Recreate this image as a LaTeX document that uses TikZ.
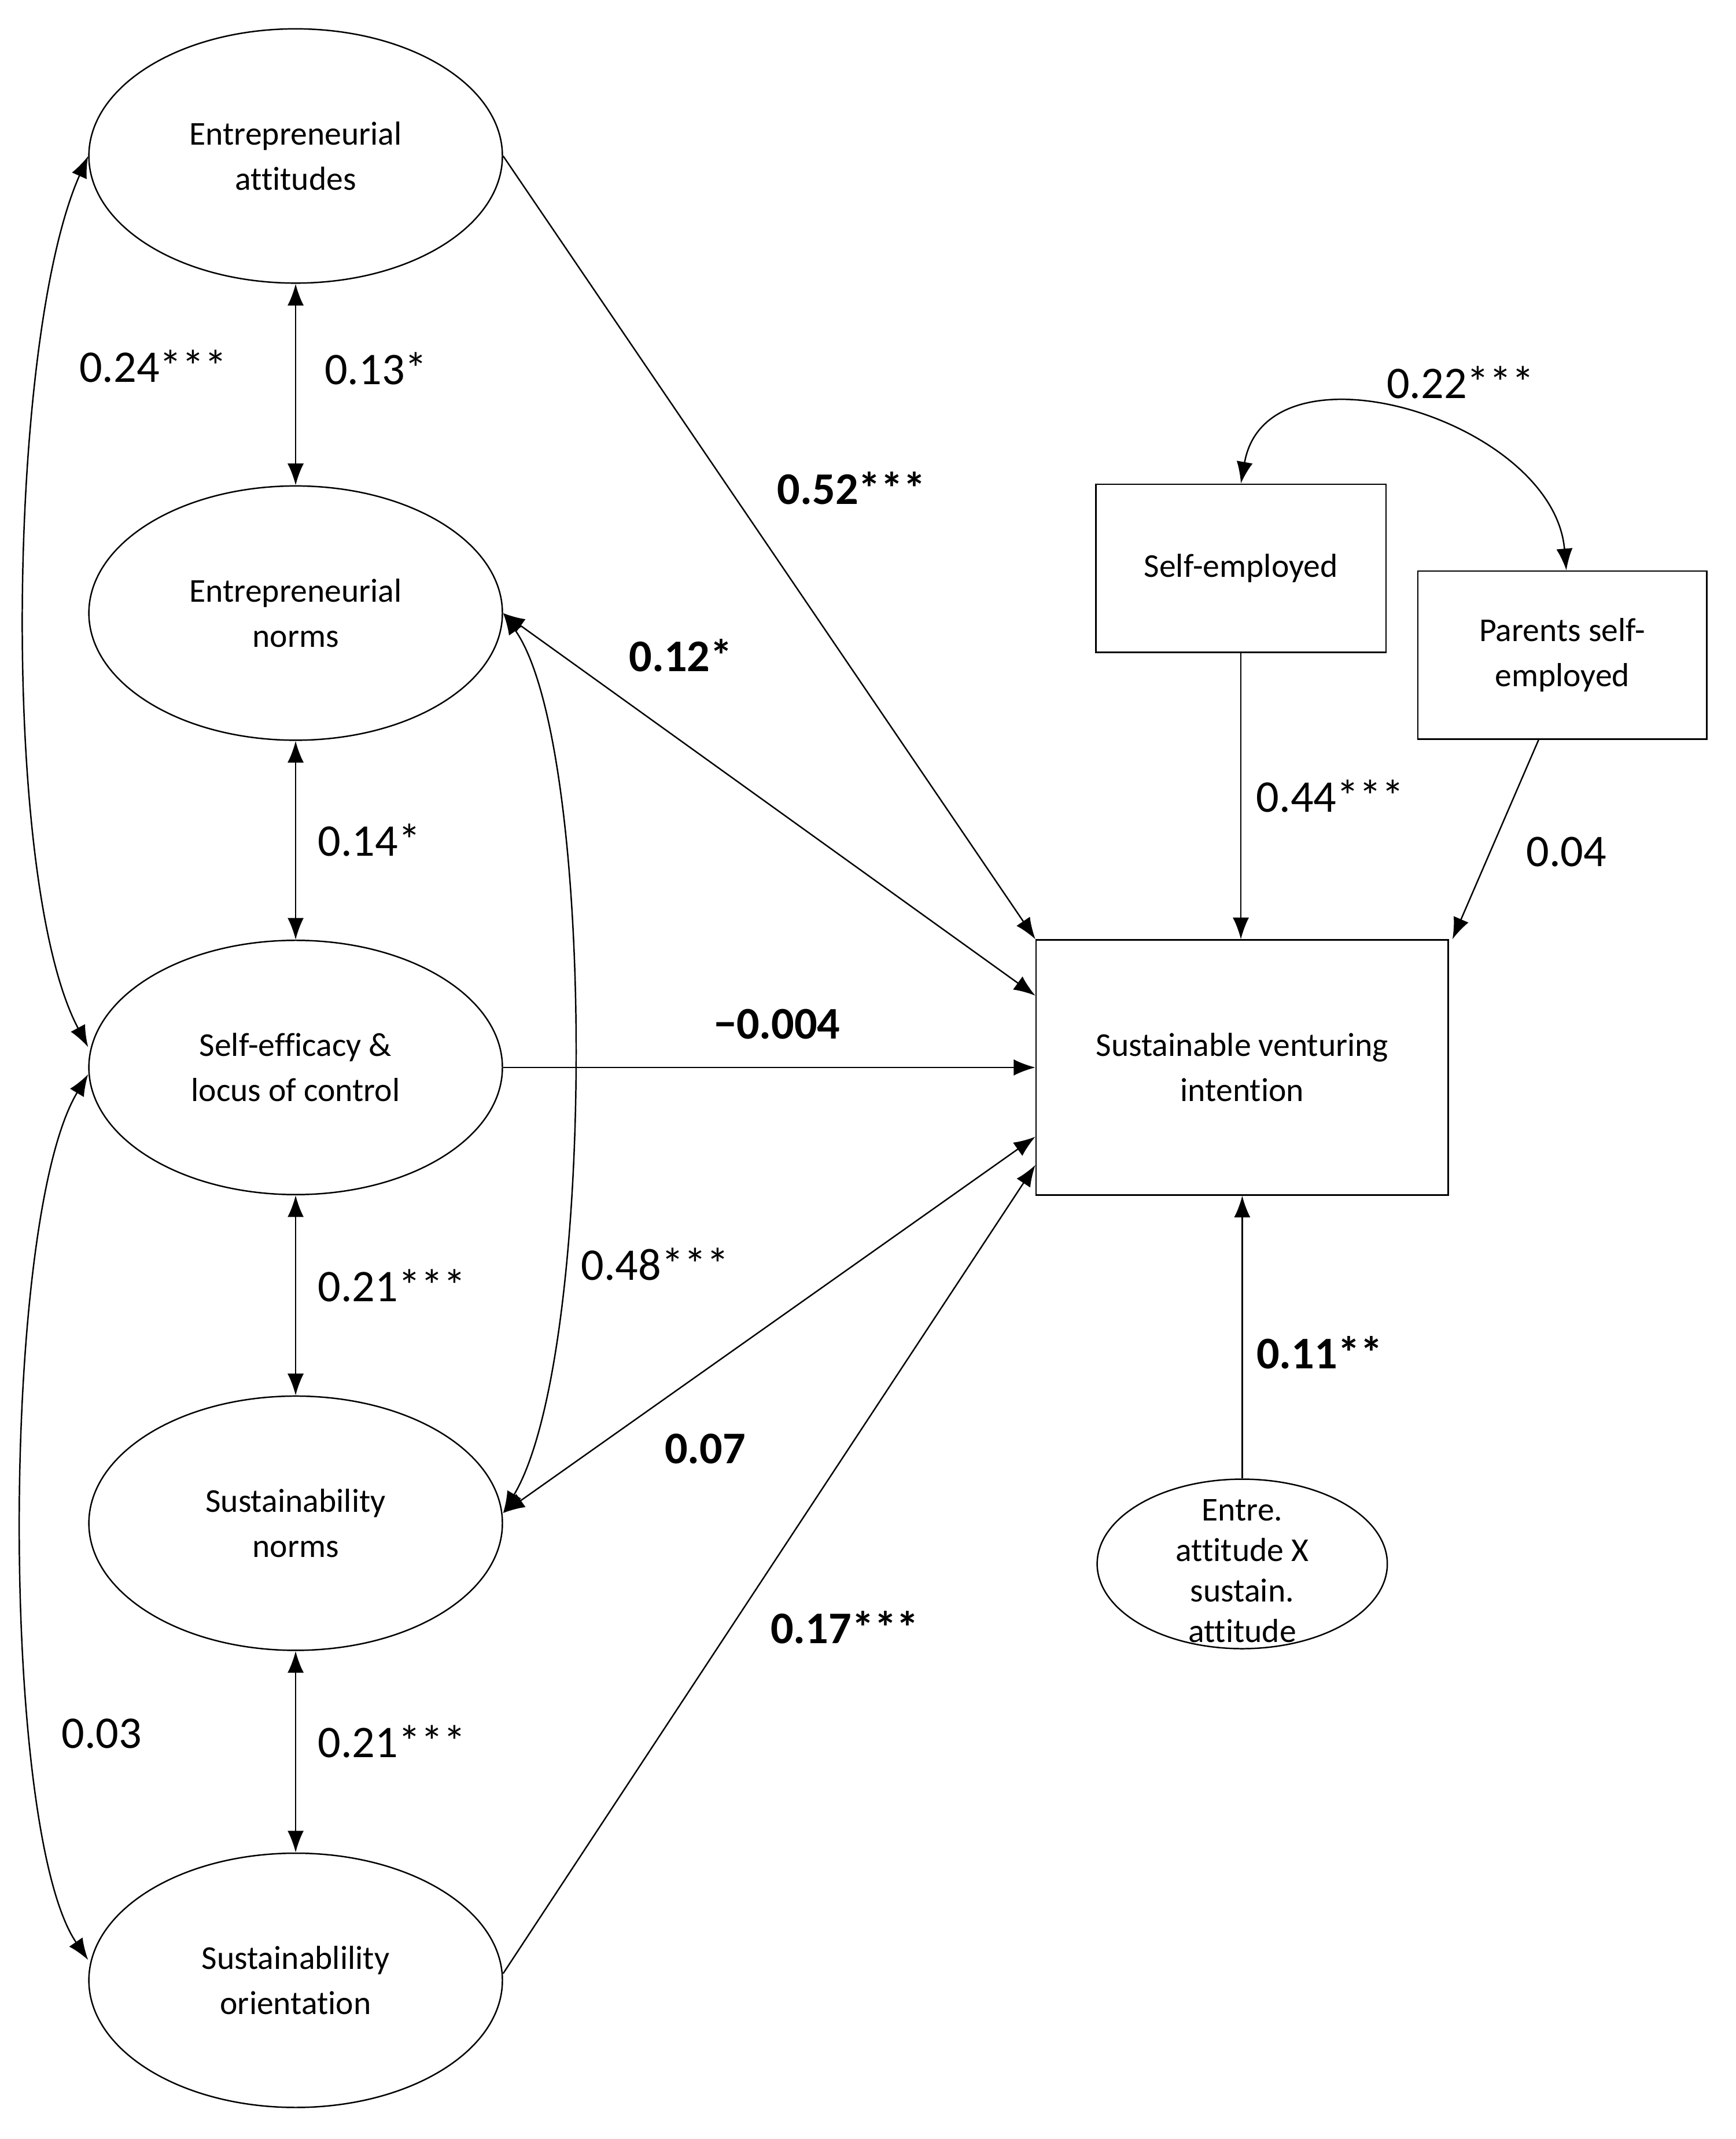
\documentclass[tikz,border=0pt]{standalone}
\usepackage{fontspec}
\setmainfont{Carlito}[Ligatures={NoCommon}]
\usetikzlibrary{arrows.meta,calc,shapes.geometric}
\tikzset{
	latent/.style={draw,ellipse,minimum width=6.1cm,minimum height=3.75cm,align=center,font=\fontsize{14}{19}\selectfont},
	obs/.style={draw,rectangle,align=center,font=\fontsize{14}{19}\selectfont},
	lab/.style={font=\fontsize{19}{22}\selectfont},
	blab/.style={font=\fontsize{19}{22}\selectfont\bfseries},
	path/.style={-{Latex[length=3.2mm,width=2.4mm]}},
	cov/.style={{Latex[length=3.2mm,width=2.4mm]}-{Latex[length=3.2mm,width=2.4mm]}},
}
\begin{document}
\begin{tikzpicture}[x=0.02cm,y=-0.02cm,line width=0.6pt]
	\useasboundingbox (0,0) rectangle (1280,1577);

	% Latent constructs
	\node[latent] (ea) at (218,115) {Entrepreneurial\\attitudes};
	\node[latent] (en) at (218,452) {Entrepreneurial\\norms};
	\node[latent] (se) at (218,787) {Self-efficacy \&\\locus of control};
	\node[latent] (sn) at (218,1123) {Sustainability\\norms};
	\node[latent] (so) at (218,1460) {Sustainablility\\orientation};

	% Observed variables
	\node[obs,minimum width=4.28cm,minimum height=2.48cm] (sem) at (915,419) {Self-employed};
	\node[obs,minimum width=4.26cm,minimum height=2.48cm] (pse) at (1152,483) {Parents self-\\employed};
	\node[obs,minimum width=6.08cm,minimum height=3.76cm] (svi) at (916,787) {Sustainable venturing\\intention};
	\node[draw,ellipse,minimum width=4.28cm,minimum height=2.5cm] (int) at (916,1153) {};
	\node[align=center,font=\fontsize{14}{17}\selectfont] (intlab) at (916,1158) {Entre.\\attitude X\\sustain.\\attitude};

	% Covariances between constructs
	\draw[cov] (ea.south) -- (en.north) node[pos=0.42,right=0.3cm,lab]{0.13*};
	\draw[cov] (en.south) -- (se.north) node[midway,right=0.2cm,lab]{0.14*};
	\draw[cov] (se.south) -- (sn.north) node[pos=0.45,right=0.2cm,lab]{0.21***};
	\draw[cov] (sn.south) -- (so.north) node[pos=0.45,right=0.2cm,lab]{0.21***};
	\draw[cov] (ea.west) .. controls (5,250) and (0,650) .. ([yshift=0.3cm]se.west);
	\node[lab] (l24) at (113,270) {0.24***};
	\draw[cov] ([yshift=-0.1cm]se.west) .. controls (0,900) and (0,1350) .. ([yshift=0.3cm]so.west);
	\node[lab] (l03) at (75,1278) {0.03};
	\draw[cov] (en.east) .. controls (440,550) and (440,1000) .. ([yshift=0.15cm]sn.east);
	\node[lab] (l48) at (483,932) {0.48***};

	% Paths to intention
	\draw[path] (ea.east) -- (svi.north west);
	\node[blab] (l52) at (628,360) {0.52***};
	\draw[cov] (en.east) -- ($(svi.north west)!0.22!(svi.south west)$);
	\node[blab] (l12) at (502,483) {0.12*};
	\draw[path] (se.east) -- (svi.west);
	\node[blab] (l004) at (573,755) {\symbol{"2212}0.004};
	\draw[cov] ([yshift=0.15cm]sn.east) -- ($(svi.north west)!0.77!(svi.south west)$);
	\node[blab] (l07) at (520,1068) {0.07};
	\draw[path] ([yshift=0.1cm]so.east) -- ($(svi.north west)!0.88!(svi.south west)$);
	\node[blab] (l17) at (623,1200) {0.17***};

	% Controls and interaction
	\draw[path] (sem.south) -- (sem.south |- svi.north) node[midway,right=0.1cm,lab]{0.44***};
	\draw[path] ([xshift=-0.35cm]pse.south) -- ([xshift=0.05cm]svi.north east);
	\node[lab] (l04) at (1155,628) {0.04};
	\draw[path] (int.north) -- (svi.south);
	\node[blab] (l11) at (973,997) {0.11**};
	\draw[cov] (sem.north) to[out=80,in=95,looseness=1.15] ([xshift=0.06cm]pse.north);
	\node[lab] (l22) at (1077,282) {0.22***};
\end{tikzpicture}
\end{document}
